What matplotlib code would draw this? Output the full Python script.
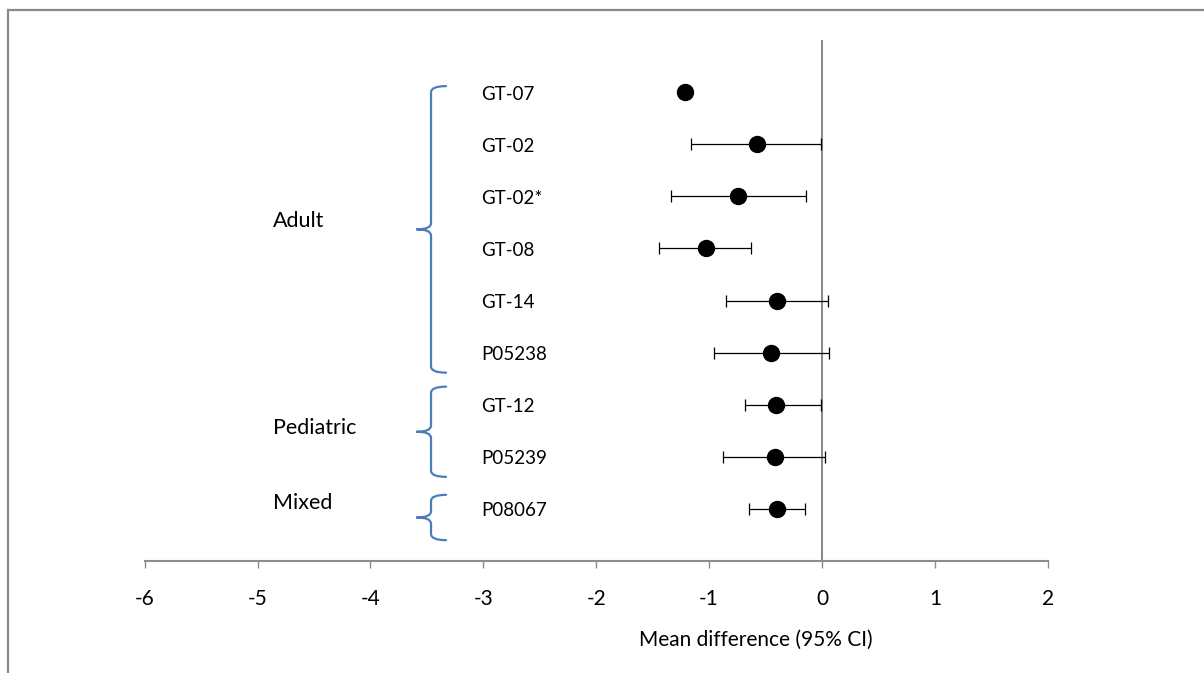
import matplotlib
matplotlib.use("Agg")
import matplotlib.pyplot as plt
from matplotlib.path import Path
from matplotlib.patches import PathPatch
from matplotlib.lines import Line2D

plt.rcParams['font.family'] = ['Lato', 'DejaVu Sans']

# ---- data ----
studies = ["GT-07", "GT-02", "GT-02*", "GT-08", "GT-14", "P05238", "GT-12", "P05239", "P08067"]
mean_diff = [-1.21, -0.58, -0.74, -1.03, -0.40, -0.45, -0.41, -0.42, -0.40]
ci_low = [None, -1.16, -1.34, -1.44, -0.85, -0.96, -0.68, -0.88, -0.65]
ci_high = [None, -0.01, -0.14, -0.63, 0.05, 0.06, -0.01, 0.03, -0.15]
groups = ["Adult", "Pediatric", "Mixed"]
group_label_y = [6.52, 2.55, 1.11]
group_brace_top = [9.115, 3.346, 1.27]
group_brace_bottom = [3.615, 1.615, 0.40]
xticks = [-6, -5, -4, -3, -2, -1, 0, 1, 2]
xlabel = "Mean difference (95% CI)"

W, H = 1204, 673
fig = plt.figure(figsize=(W / 100, H / 100), dpi=100)
ax = fig.add_axes([144.6 / W, 1 - 561 / H, 903.2 / W, 521 / H])
ax.set_xlim(-6, 2)
ax.set_ylim(0, 10)

n = len(studies)
ypos = [n - i for i in range(n)]

for x, y, lo, hi in zip(mean_diff, ypos, ci_low, ci_high):
    if lo is not None:
        ax.errorbar([x], [y], xerr=[[x - lo], [hi - x]], fmt='none',
                    ecolor='black', elinewidth=0.9, capsize=4.3, capthick=0.9, zorder=3)
ax.plot(mean_diff, ypos, 'o', color='black', markersize=11.5, zorder=4)

for s, y in zip(studies, ypos):
    ax.text(-3.02, y - 0.04, s, ha='left', va='center', fontsize=13.5, color='black')

# vertical reference line at 0
ax.axvline(0, color='#8c8c8c', linewidth=1.5, zorder=2)

# braces and group labels
vx, tipx, midx = -3.463, -3.33, -3.587
brace_color = '#4a7ebb'
for g, ly, top, bot in zip(groups, group_label_y, group_brace_top, group_brace_bottom):
    mid = (top + bot) / 2
    r = 0.12
    verts = [(tipx, top), (vx, top), (vx, top - r),
             (vx, mid + r), (vx, mid), (midx, mid),
             (midx, mid), (vx, mid), (vx, mid - r),
             (vx, bot + r), (vx, bot), (tipx, bot)]
    codes = [Path.MOVETO, Path.CURVE3, Path.CURVE3,
             Path.LINETO, Path.CURVE3, Path.CURVE3,
             Path.MOVETO, Path.CURVE3, Path.CURVE3,
             Path.LINETO, Path.CURVE3, Path.CURVE3]
    ax.add_patch(PathPatch(Path(verts, codes), facecolor='none', edgecolor=brace_color,
                           linewidth=1.6, capstyle='round'))
    ax.text(-4.86, ly, g, ha='left', va='center', fontsize=15.5, color='black')

# axes styling
for s in ['top', 'right', 'left']:
    ax.spines[s].set_visible(False)
ax.spines['bottom'].set_color('#8c8c8c')
ax.spines['bottom'].set_linewidth(1.5)
ax.set_yticks([])
ax.set_xticks(xticks)
ax.set_xticklabels([str(t) for t in xticks], fontsize=15)
ax.tick_params(axis='x', direction='out', length=5, width=1.0, color='#8c8c8c', pad=15)
ax.text((756 - 144.6) / 903.2, -79 / 521, xlabel, transform=ax.transAxes,
        ha='center', va='center', fontsize=15)

# outer frame (partially visible)
fig.add_artist(Line2D([8 / W, 1.0], [1 - 10 / H, 1 - 10 / H], transform=fig.transFigure,
                      color='#8a8a8a', linewidth=1.6))
fig.add_artist(Line2D([8 / W, 8 / W], [0, 1 - 10 / H], transform=fig.transFigure,
                      color='#8a8a8a', linewidth=1.6))

fig.savefig("out.png", dpi=100, facecolor='white')
